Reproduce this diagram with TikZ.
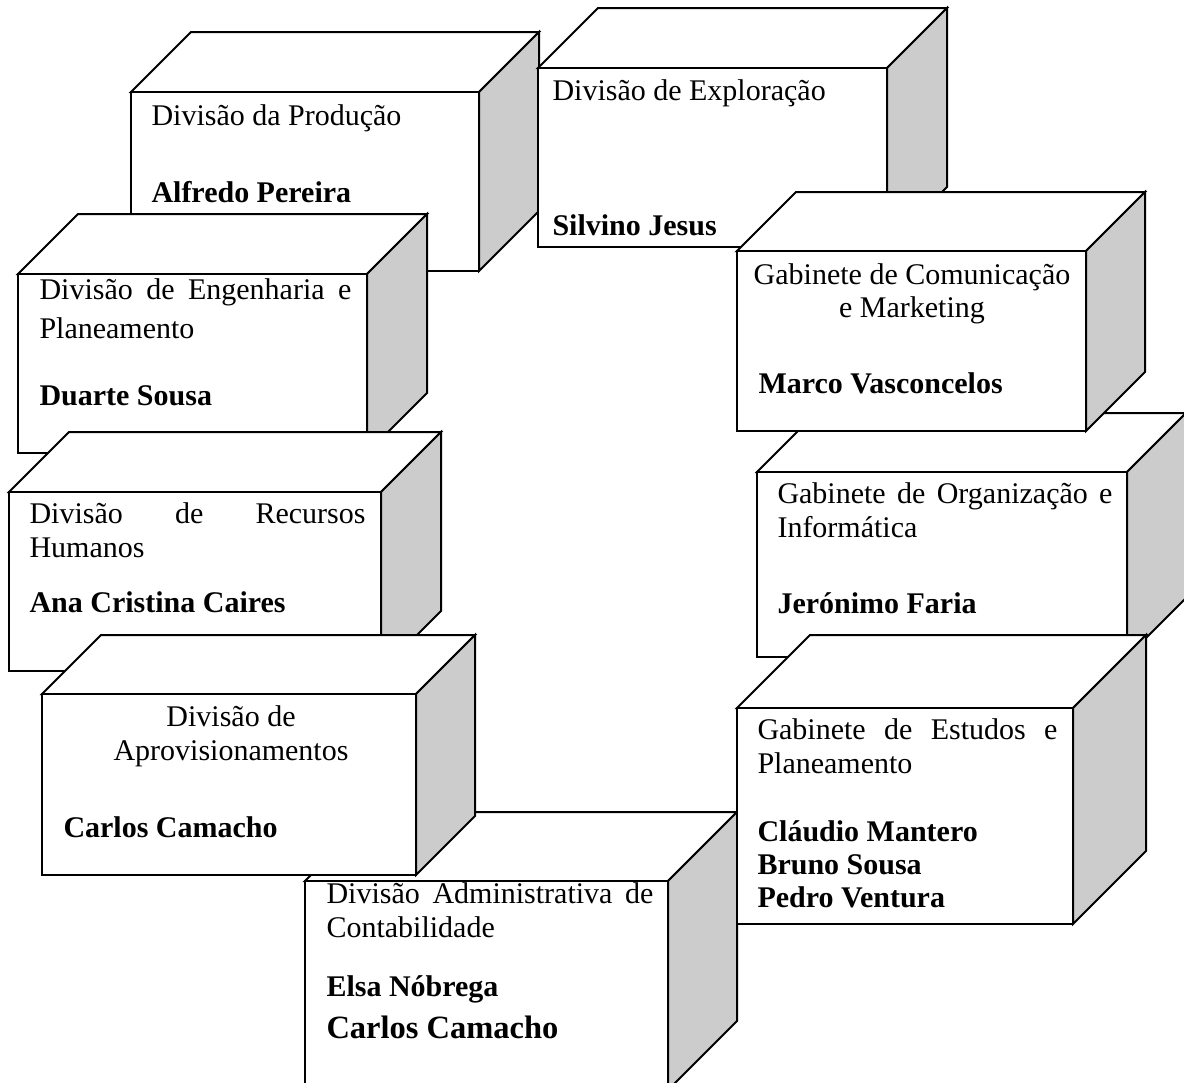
\documentclass[tikz,border=0pt]{standalone}
\usepackage{fontspec}
\setmainfont{Liberation Serif}
\definecolor{sidegray}{RGB}{204,204,204}
\newcommand\cubebox[5]{%
 \filldraw[boxline,fill=white] (#1,#2) -- ({#1+#5},{#2-#5}) -- ({#3+#5},{#2-#5}) -- (#3,#2) -- cycle;
 \filldraw[boxline,fill=sidegray] (#3,#2) -- ({#3+#5},{#2-#5}) -- ({#3+#5},{#4-#5}) -- (#3,#4) -- cycle;
 \filldraw[boxline,fill=white] (#1,#2) rectangle (#3,#4);
}
\begin{document}
\begin{tikzpicture}[x=0.4pt,y=-0.4pt,
  boxline/.style={draw=black,line width=0.8pt,line join=miter},
  lbl/.style={inner sep=0pt,anchor=base west,font=\fontsize{12}{14}\selectfont},
  ctr/.style={lbl,anchor=base},
  pname/.style={lbl,font=\fontsize{12}{14}\selectfont\bfseries},
  bigname/.style={lbl,font=\fontsize{13}{15}\selectfont\bfseries}]
\useasboundingbox (0,0) rectangle (1184,1082);
\clip (0,0) rectangle (1184,1082);
% Gabinete de Organizacao e Informatica
\cubebox{757}{472}{1127}{657}{59}
\node[lbl] (org1) at (777,503) {\makebox[134pt][s]{Gabinete de Organização e}};
\node[lbl] (org2) at (777,537) {Informática};
\node[pname] (org3) at (777,613) {Jerónimo Faria};
% Divisao da Producao
\cubebox{131}{92}{479}{271}{60}
\node[lbl] (prod1) at (151,125) {Divisão da Produção};
\node[pname] (prod2) at (151,202) {Alfredo Pereira};
% Divisao de Exploracao
\cubebox{538}{68}{887}{247}{60}
\node[lbl] (expl1) at (552,100) {Divisão de Exploração};
\node[pname] (expl2) at (552,235) {Silvino Jesus};
% Divisao de Engenharia e Planeamento
\cubebox{18}{274}{367}{453}{60}
\node[lbl] (eng1) at (39,299) {\makebox[124.8pt][s]{Divisão de Engenharia e}};
\node[lbl] (eng2) at (39,338) {Planeamento};
\node[pname] (eng3) at (39,405) {Duarte Sousa};
% Gabinete de Comunicacao e Marketing
\cubebox{737}{251}{1086}{431}{59}
\node[ctr] (com1) at (912,284) {Gabinete de Comunicação};
\node[ctr] (com2) at (912,317) {e Marketing};
\node[pname] (com3) at (758,393) {Marco Vasconcelos};
% Divisao de Recursos Humanos
\cubebox{9}{492}{381}{671}{60}
\node[lbl] (rh1) at (29,523) {\makebox[134.4pt][s]{Divisão de Recursos}};
\node[lbl] (rh2) at (29,557) {Humanos};
\node[pname] (rh3) at (29,612) {Ana Cristina Caires};
% Divisao Administrativa de Contabilidade
\cubebox{305}{881}{668}{1090}{69}
\node[lbl] (cont1) at (326,903) {\makebox[130.8pt][s]{Divisão Administrativa de}};
\node[lbl] (cont2) at (326,937) {Contabilidade};
\node[pname] (cont3) at (326,996) {Elsa Nóbrega};
\node[bigname] (cont4) at (326,1038) {Carlos Camacho};
% Divisao de Aprovisionamentos
\cubebox{42}{694}{416}{875}{59}
\node[ctr] (apr1) at (231,726) {Divisão de};
\node[ctr] (apr2) at (231,760) {Aprovisionamentos};
\node[pname] (apr3) at (63,837) {Carlos Camacho};
% Gabinete de Estudos e Planeamento
\cubebox{737}{708}{1073}{924}{73}
\node[lbl] (est1) at (757,739) {\makebox[120pt][s]{Gabinete de Estudos e}};
\node[lbl] (est2) at (757,773) {Planeamento};
\node[pname] (est3) at (757,841) {Cláudio Mantero};
\node[pname] (est4) at (757,874) {Bruno Sousa};
\node[pname] (est5) at (757,907) {Pedro Ventura};
\end{tikzpicture}
\end{document}
